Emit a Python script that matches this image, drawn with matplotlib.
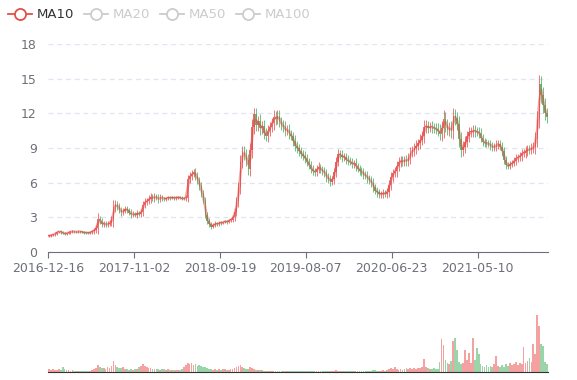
"""
Gráfico de candlestick semanal com MA10 e volume (estilo ECharts).
"""

import numpy as np
import pandas as pd
import matplotlib
matplotlib.use("Agg")
import matplotlib.pyplot as plt
from matplotlib.lines import Line2D

# ── Dados (fechamento semanal) ─────────────────────────────────────────────

CLOSE = [
    1.40, 1.45, 1.52, 1.60, 1.72, 1.78, 1.70, 1.62, 1.58, 1.65,
    1.70, 1.76, 1.80, 1.74, 1.72, 1.78, 1.75, 1.70, 1.68, 1.66,
    1.65, 1.70, 1.78, 1.90, 2.10, 2.85, 2.70, 2.40, 2.45, 2.38,
    2.42, 2.55, 2.80, 3.90, 4.10, 3.95, 3.60, 3.45, 3.55, 3.75,
    3.60, 3.40, 3.25, 3.30, 3.20, 3.35, 3.30, 3.45, 4.10, 4.35,
    4.45, 4.60, 4.75, 4.65, 4.80, 4.70, 4.55, 4.75, 4.65, 4.60,
    4.65, 4.70, 4.68, 4.72, 4.66, 4.70, 4.74, 4.68, 4.62, 4.65,
    4.70, 6.30, 6.60, 6.75, 6.90, 6.60, 6.20, 5.70, 5.10, 4.50,
    3.20, 2.70, 2.40, 2.20, 2.35, 2.45, 2.40, 2.55, 2.50, 2.60,
    2.65, 2.60, 2.75, 2.80, 3.00, 3.50, 4.40, 5.60, 7.80, 8.70,
    8.40, 8.00, 7.20, 8.80, 10.80, 11.90, 11.00, 11.30, 10.70, 10.90,
    10.30, 10.00, 10.50, 10.80, 11.20, 11.70, 11.50, 11.80, 11.30, 11.00,
    10.80, 10.50, 10.60, 10.20, 10.00, 9.60, 9.20, 9.00, 8.70, 8.50,
    8.30, 8.10, 7.80, 7.50, 7.20, 7.00, 6.90, 7.20, 7.35, 7.10,
    7.05, 6.80, 6.50, 6.30, 6.10, 6.30, 6.90, 7.80, 8.50, 8.40,
    8.20, 8.25, 8.00, 7.90, 7.80, 7.60, 7.70, 7.40, 7.20, 7.05,
    6.90, 6.70, 6.60, 6.40, 6.20, 6.00, 5.60, 5.30, 5.15, 5.00,
    5.00, 5.10, 5.05, 5.20, 5.80, 6.50, 6.80, 7.00, 7.40, 7.80,
    7.90, 7.80, 8.00, 7.85, 8.10, 8.60, 8.80, 9.00, 9.20, 9.40,
    9.70, 10.00, 10.80, 10.90, 10.75, 10.85, 10.80, 10.70, 10.65, 10.50,
    10.20, 10.70, 11.50, 11.00, 10.60, 10.70, 10.50, 11.80, 11.60, 11.10,
    9.80, 8.80, 9.10, 9.50, 10.00, 10.35, 10.40, 10.50, 10.45, 10.40,
    10.30, 9.90, 9.50, 9.45, 9.40, 9.35, 9.20, 9.05, 9.10, 9.30,
    9.35, 9.10, 8.70, 8.00, 7.50, 7.45, 7.60, 7.70, 7.90, 8.10,
    8.20, 8.30, 8.55, 8.60, 8.75, 8.90, 8.85, 9.00, 9.05, 9.80,
    11.50, 14.50, 13.60, 12.70, 12.00, 11.70,
]
FIRST_OPEN = 1.35

# sombra (pavio) acima/abaixo do corpo de cada semana
WICK = [
    0.08, 0.10, 0.08, 0.12, 0.10, 0.08, 0.10, 0.08, 0.10, 0.08,
    0.08, 0.10, 0.08, 0.06, 0.08, 0.10, 0.08, 0.06, 0.08, 0.06,
    0.08, 0.10, 0.12, 0.20, 0.25, 0.50, 0.30, 0.20, 0.25, 0.20,
    0.25, 0.20, 0.30, 0.60, 0.40, 0.30, 0.25, 0.30, 0.25, 0.20,
    0.25, 0.20, 0.30, 0.25, 0.20, 0.25, 0.20, 0.30, 0.35, 0.30,
    0.25, 0.30, 0.35, 0.25, 0.30, 0.20, 0.30, 0.25, 0.20, 0.15,
    0.15, 0.12, 0.15, 0.10, 0.12, 0.15, 0.10, 0.12, 0.15, 0.10,
    0.20, 0.40, 0.30, 0.35, 0.30, 0.40, 0.35, 0.30, 0.35, 0.30,
    0.25, 0.30, 0.25, 0.20, 0.15, 0.20, 0.15, 0.12, 0.15, 0.12,
    0.12, 0.15, 0.12, 0.15, 0.20, 0.30, 0.40, 0.50, 0.60, 0.50,
    0.45, 0.55, 0.50, 0.60, 0.70, 0.60, 0.55, 0.50, 0.60, 0.45,
    0.50, 0.40, 0.50, 0.45, 0.40, 0.60, 0.50, 0.45, 0.50, 0.40,
    0.45, 0.50, 0.40, 0.45, 0.35, 0.40, 0.50, 0.40, 0.35, 0.40,
    0.35, 0.40, 0.35, 0.30, 0.40, 0.35, 0.30, 0.35, 0.40, 0.30,
    0.35, 0.30, 0.40, 0.30, 0.35, 0.30, 0.40, 0.45, 0.40, 0.35,
    0.40, 0.30, 0.35, 0.40, 0.30, 0.35, 0.30, 0.40, 0.30, 0.35,
    0.30, 0.35, 0.30, 0.40, 0.30, 0.35, 0.40, 0.30, 0.35, 0.30,
    0.30, 0.35, 0.30, 0.35, 0.40, 0.45, 0.40, 0.35, 0.50, 0.40,
    0.45, 0.40, 0.35, 0.40, 0.45, 0.50, 0.40, 0.45, 0.50, 0.40,
    0.50, 0.45, 0.60, 0.50, 0.45, 0.40, 0.50, 0.40, 0.45, 0.50,
    0.55, 0.60, 0.80, 0.60, 0.50, 0.55, 0.60, 0.70, 0.60, 0.50,
    0.70, 0.60, 0.50, 0.55, 0.45, 0.50, 0.40, 0.45, 0.50, 0.40,
    0.45, 0.40, 0.35, 0.40, 0.35, 0.30, 0.35, 0.30, 0.35, 0.40,
    0.35, 0.30, 0.40, 0.35, 0.30, 0.25, 0.30, 0.25, 0.30, 0.35,
    0.30, 0.35, 0.40, 0.35, 0.45, 0.40, 0.35, 0.40, 0.45, 0.60,
    0.70, 0.80, 0.70, 0.65, 0.60, 0.50,
]

VOLUME = [
    3, 2.5, 3, 2, 2.5, 3, 2, 5, 3, 2,
    2, 1.5, 2, 1.5, 1.2, 1.5, 1.2, 1.0, 1.2, 1.0,
    1.2, 1.5, 2, 3, 4, 7, 5, 4, 4.5, 3.5,
    5, 4, 6, 11, 7, 5, 4, 4.5, 5, 3.5,
    3, 2.5, 3, 2.5, 3, 3.5, 5, 6, 8, 6,
    5, 4, 4.5, 3.5, 3, 3.5, 3, 2.5, 3, 3,
    2.5, 3, 2.5, 2, 2.5, 2, 2, 2.5, 3, 5,
    7, 9, 8, 9, 7, 8, 6, 7, 6, 5,
    5, 4, 3.5, 3, 2.5, 3, 2.5, 3, 2.5, 3,
    3, 2.5, 2.5, 3, 3.5, 4, 5, 6, 7, 5,
    4, 3.5, 3, 5, 4, 3, 2.5, 2, 2.5, 2,
    1.5, 1.5, 1.2, 1.5, 1.0, 1.2, 1.0, 1.0, 1.5, 1.0,
    1.0, 1.2, 0.8, 1.0, 1.5, 1.0, 0.8, 1.0, 1.2, 0.8,
    1.0, 1.2, 1.5, 1.0, 0.8, 1.0, 1.2, 1.0, 0.8, 1.0,
    1.5, 1.0, 1.2, 1.0, 0.8, 1.0, 1.5, 2.0, 1.5, 1.2,
    1.0, 1.2, 0.8, 1.0, 1.2, 1.0, 0.8, 1.0, 1.2, 1.0,
    1.0, 1.2, 1.5, 1.0, 1.2, 1.5, 1.8, 2.0, 1.5, 1.2,
    1.5, 2.0, 1.5, 2.5, 3.0, 4.0, 3.5, 5.0, 3.0, 2.5,
    3.0, 2.5, 3.5, 4.0, 3.0, 4.0, 3.0, 4.5, 3.5, 4.0,
    4.0, 5.0, 13.0, 5.0, 4.0, 3.0, 3.5, 4.0, 3.0, 3.0,
    10.0, 33.0, 27.0, 12.0, 9.0, 8.0, 11.0, 31.0, 34.0, 22.0,
    10.0, 8.0, 9.0, 22.0, 12.0, 19.0, 9.0, 34.0, 12.0, 24.0,
    18.0, 8.0, 6.0, 5.0, 7.0, 5.0, 6.0, 5.0, 8.0, 16.0,
    6.0, 5.0, 7.0, 5.0, 8.0, 6.0, 9.0, 7.0, 8.0, 10.0,
    7.0, 9.0, 8.0, 25.0, 9.0, 11.0, 14.0, 10.0, 28.0, 18.0,
    57.0, 46.0, 28.0, 26.0, 10.0, 8.0,
]

TICK_LABELS = ["2016-12-16", "2017-11-02", "2018-09-19",
               "2019-08-07", "2020-06-23", "2021-05-10"]
TICK_STEP = 44          # semanas entre rótulos

LEGEND_NAMES = ["MA10", "MA20", "MA50", "MA100"]
LEGEND_ACTIVE = [True, False, False, False]

UP_COLOR = "#eb5454"
DOWN_COLOR = "#47b262"
MA_COLOR = "#e0504a"
GRID_COLOR = "#e0e6f1"
AXIS_COLOR = "#6e7079"

W, H = 577, 380


def fx(px):
    return px / W


def fy(py):
    return 1 - py / H


close = np.array(CLOSE)
opens = np.concatenate([[FIRST_OPEN], close[:-1]])
wick = np.array(WICK)
idx = np.arange(len(close))
up = close >= opens
colors = np.where(up, UP_COLOR, DOWN_COLOR)
ma10 = pd.Series(close).rolling(2, min_periods=1).mean()
lo = np.minimum(opens, close)
hi = np.maximum(opens, close)

fig = plt.figure(figsize=(W / 100, H / 100), dpi=100)
fig.patch.set_facecolor("white")

# ── Painel de preços ──────────────────────────────────────────
ax = fig.add_axes([fx(48), fy(252), fx(548) - fx(48), fy(44) - fy(252)])
ax.vlines(idx, lo - wick, hi + wick, colors=colors, lw=0.7, alpha=0.8, zorder=3)
body = np.maximum(hi - lo, 0.08)
ax.bar(idx, body, bottom=lo, width=0.7,
       color=colors, linewidth=0, alpha=0.85, zorder=3)
ax.plot(idx, ma10, color=MA_COLOR, lw=1.8, alpha=0.5, zorder=4)

ax.set_xlim(-0.5, len(close) - 0.5)
ax.set_ylim(0, 18)
ax.set_yticks(np.arange(0, 19, 3))
ax.yaxis.grid(True, color=GRID_COLOR, linestyle=(0, (4, 3)), linewidth=0.9)
ax.set_axisbelow(True)
ax.tick_params(axis="y", length=0, labelsize=9, labelcolor=AXIS_COLOR, pad=8)
ticks = np.arange(len(TICK_LABELS)) * TICK_STEP - 0.5
ax.set_xticks(ticks)
ax.set_xticklabels(TICK_LABELS)
ax.tick_params(axis="x", length=4, color=AXIS_COLOR, labelsize=9,
               labelcolor=AXIS_COLOR, pad=3)
for side in ["top", "right", "left"]:
    ax.spines[side].set_visible(False)
ax.spines["bottom"].set_color(AXIS_COLOR)

# ── Painel de volume ─────────────────────────────────────────
axv = fig.add_axes([fx(48), fy(372), fx(548) - fx(48), fy(300) - fy(372)])
axv.bar(idx, VOLUME, width=0.9, color=colors, linewidth=0, alpha=0.55)
axv.set_xlim(-0.5, len(close) - 0.5)
axv.set_ylim(0, 72)
axv.set_xticks([])
axv.set_yticks([])
for side in ["top", "right", "left"]:
    axv.spines[side].set_visible(False)
axv.spines["bottom"].set_color("#333333")

# ── Legenda ──────────────────────────────────────────────────
x0 = 8
for name, active in zip(LEGEND_NAMES, LEGEND_ACTIVE):
    c = MA_COLOR if active else "#cccccc"
    fig.add_artist(Line2D([fx(x0), fx(x0 + 24)], [fy(14), fy(14)],
                          color=c, lw=1.3))
    fig.add_artist(Line2D([fx(x0 + 12)], [fy(14)], marker="o", ms=8,
                          mfc="white", mec=c, mew=1.3))
    t = fig.text(fx(x0 + 29), fy(14), name, fontsize=9.5,
                 color="#333333" if active else "#cccccc", va="center")
    x0 += 76

fig.savefig("out.png", dpi=100)
